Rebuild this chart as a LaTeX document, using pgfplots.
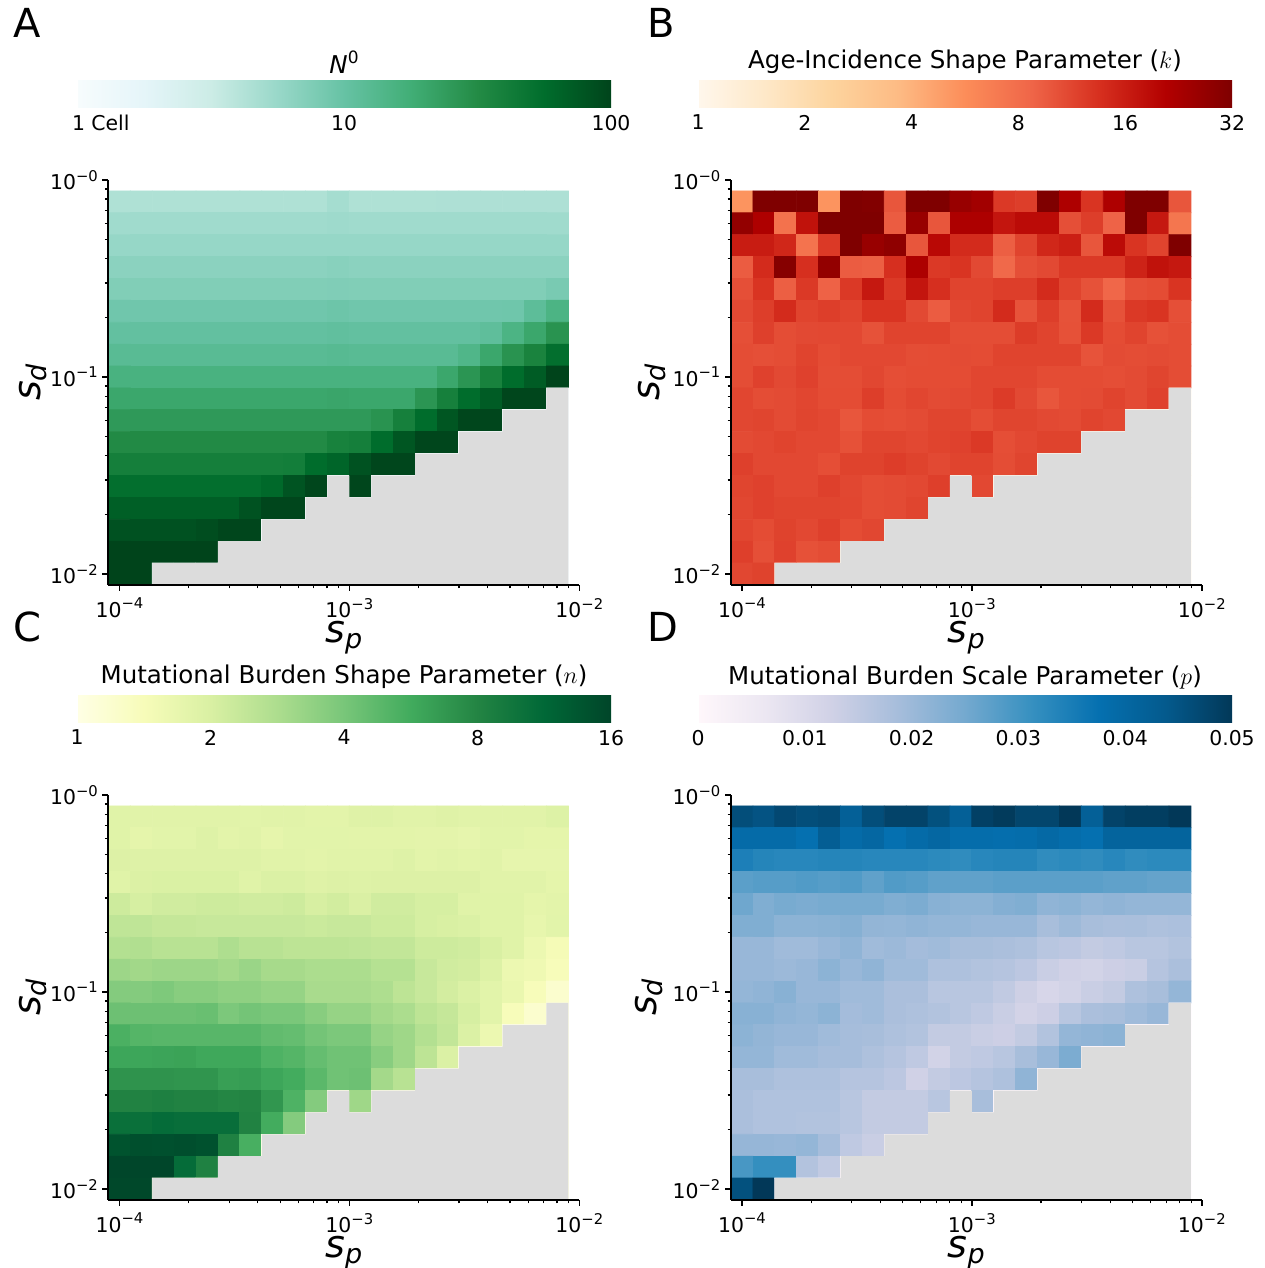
\documentclass[border=0pt]{standalone}
\usepackage{fontspec}
\setmainfont{DejaVu Sans}
\usepackage{pgfplots}
\usepackage{pgfplotstable}
\pgfplotsset{compat=1.18}
\definecolor{maskgrey}{HTML}{DCDCDC}
\newcommand\pw[1]{10\raisebox{0.42em}{\fontsize{7.4}{8}\selectfont −#1}}
\newcommand\slab[1]{\fontsize{19}{23}\selectfont\itshape s\raisebox{-3pt}{\fontsize{13.5}{16}\selectfont #1}}
\pgfplotsset{
  colormap={BuGn}{rgb255=(247,252,253) rgb255=(229,245,249) rgb255=(204,236,230) rgb255=(153,216,201) rgb255=(102,194,164) rgb255=(65,174,118) rgb255=(35,139,69) rgb255=(0,109,44) rgb255=(0,68,27)},
  colormap={OrRd}{rgb255=(255,247,236) rgb255=(254,232,200) rgb255=(253,212,158) rgb255=(253,187,132) rgb255=(252,141,89) rgb255=(239,101,72) rgb255=(215,48,31) rgb255=(179,0,0) rgb255=(127,0,0)},
  colormap={YlGn}{rgb255=(255,255,229) rgb255=(247,252,185) rgb255=(217,240,163) rgb255=(173,221,142) rgb255=(120,198,121) rgb255=(65,171,93) rgb255=(35,132,67) rgb255=(0,104,55) rgb255=(0,69,41)},
  colormap={PuBu}{rgb255=(255,247,251) rgb255=(236,231,242) rgb255=(208,209,230) rgb255=(166,189,219) rgb255=(116,169,207) rgb255=(54,144,192) rgb255=(5,112,176) rgb255=(4,90,141) rgb255=(2,56,88)},
  panel/.style={
    scale only axis, width=235.4pt, height=202.5pt,
    xmin=-4.0476, xmax=-2, ymin=-2.0556, ymax=0,
    axis x line*=bottom, axis y line*=left,
    x axis line style={-, line width=1pt}, y axis line style={-, line width=1pt},
    axis on top,
    tick align=outside, major tick length=3pt, minor tick length=1.75pt,
    major tick style={black,line width=0.8pt}, minor tick style={black,line width=0.6pt},
    xtick={-4,-3,-2}, xticklabels={\pw{4},\pw{3},\pw{2}},
    ytick={-2,-1,0}, yticklabels={\pw{2},\pw{1},\pw{0}},
    minor xtick={-3.699,-3.523,-3.398,-3.301,-3.222,-3.155,-3.097,-3.046,-2.699,-2.523,-2.398,-2.301,-2.222,-2.155,-2.097,-2.046},
    minor ytick={-1.699,-1.523,-1.398,-1.301,-1.222,-1.155,-1.097,-1.046,-0.699,-0.523,-0.398,-0.301,-0.222,-0.155,-0.097,-0.046},
    tick label style={font=\fontsize{10.2}{12}\selectfont},
    yticklabel style={xshift=1.2pt},
    xlabel={\slab{p}}, ylabel={\slab{d}},
    xlabel style={at={(axis description cs:0.5,-0.131)},anchor=center,inner sep=0pt},
    ylabel style={at={(axis description cs:-0.161,0.5)},anchor=center,inner sep=0pt},
    point meta min=0, point meta max=1,
  },
  cbar/.style n args={3}{
    colorbar horizontal,
    colorbar style={
      at={(#1,1.1802)}, anchor=south west, width=267pt, height=13.5pt,
      xtick={#2}, xticklabels={#3},
      major tick length=0pt, xtick style={draw=none}, axis line style={draw=none},
      tick label style={font=\fontsize{10.2}{12}\selectfont},
      xticklabel style={yshift=-0.5pt},
      title style={font=\fontsize{12.25}{14}\selectfont, yshift=-6.5pt},
    },
  },
}
% Values per cell, top row first, 21 columns (sp) by 18 rows (sd). Cells in the grey region hold 1 or 0 and are covered.
\pgfplotstableread[header=false]{
4.4 4.4 4.4 4.4 4.4 4.4 4.4 4.4 4.4 4.4 4.9 4.4 4.4 4.4 4.4 4.45 4.45 4.45 4.45 4.45 4.45
5.2 5.2 5.2 5.2 5.2 5.2 5.2 5.2 5.2 5.2 5.3 5.2 5.2 5.2 5.2 5.2 5.2 5.2 5.2 5.2 5.2
5.8 5.8 5.8 5.8 5.8 5.8 5.8 5.8 5.8 5.8 5.8 5.8 5.8 5.8 5.8 5.8 5.8 5.8 5.8 5.8 5.8
6.6 6.6 6.6 6.6 6.6 6.6 6.6 6.6 6.6 6.6 6.8 6.6 6.6 6.6 6.6 6.6 6.6 6.6 6.6 6.6 6.6
7.4 7.4 7.4 7.4 7.4 7.4 7.4 7.4 7.4 7.4 7.5 7.4 7.4 7.4 7.4 7.4 7.4 7.4 7.4 7.4 8.1
8.9 8.9 8.9 8.9 8.9 8.9 8.9 8.9 8.9 8.9 9.2 8.9 8.9 8.9 8.9 8.9 8.9 8.9 9 11.5 15
10.5 10.5 10.5 10.5 10.5 10.5 10.5 10.5 10.5 10.5 10.8 10.5 10.5 10.5 10.5 10.5 10.5 11.2 15 20 28
12.3 12.3 12.3 12.3 12.3 12.3 12.3 12.3 12.3 12.3 12.6 12.3 12.3 12.3 12.3 12.3 14 20 28 37 54
15.8 15.8 15.8 15.8 15.8 15.8 15.8 15.8 15.8 15.8 15.8 15.8 15.8 15.8 15.8 20 27 38 56 72 100
20 20 20 20 20 20 20 20 20 20 20.5 20 20 20 27 39 56 72 98 98 1
25 25 25 25 25 25 25 25 25 25 25 25 28 39 56 78 98 98 1 1 1
32 32 32 32 32 32 32 32 32 32 38 40 56 78 98 98 1 1 1 1 1
40 40 40 40 40 40 40 40 41 56 63 82 98 98 1 1 1 1 1 1 1
54 54 54 54 54 54 54 60 80 98 1 98 1 1 1 1 1 1 1 1 1
69 69 69 69 69 69 82 98 98 1 1 1 1 1 1 1 1 1 1 1 1
83 83 83 83 88 98 98 1 1 1 1 1 1 1 1 1 1 1 1 1 1
100 100 100 100 100 1 1 1 1 1 1 1 1 1 1 1 1 1 1 1 1
100 100 1 1 1 1 1 1 1 1 1 1 1 1 1 1 1 1 1 1 1
}\tabA
\pgfplotstableread[header=false]{
5.1 32 32 32 5.1 32 30 9.5 32 32 25 23 12 11.5 32 20.7 12.5 20.7 32 32 9.5
26 20.7 7.3 17 32 32 32 9 25 9.5 21 21 16.5 18 18 10 11.5 8.5 32 16 7
15.5 15.5 14 7.2 12 32 25 27 9.5 18.5 13.5 13.5 8.8 11 14 15 9.5 18 12.5 11 32
9 13.5 29 13 26 9 8.8 13 21 12 12.5 10.5 8 10 10.5 12 12 12 14.5 17 16
10 12.5 8.8 12 8.6 12 16 12 16.5 13 11 11 11.5 11.5 13.5 11 9.8 8.2 10 10.3 12.5
10.5 11.5 13.5 11 11.5 11 12.5 12.5 10.5 9 10.7 11 13.5 9.7 11.5 9.8 13.5 9.8 12 12.5 10
10 11.3 10.2 10.5 10.6 10.6 9.8 11 11 11 10.2 10.2 10.2 11.7 11 9.9 12 10.3 11 9.9 10.2
10.2 10 10.2 11 10.3 10.6 10.6 10.6 10.2 10.3 10.4 10.3 11 11 11 11 9.7 10.4 10.2 10.4 10.2
10.2 11.2 10.5 11.2 10.2 10.2 10.7 10.1 10.3 10.3 10.3 10.8 10.8 10.8 10.3 10.3 10.3 10.1 10.4 10.9 10.2
10.8 10.2 10.4 10.8 10.3 10.3 11.5 10.3 10.8 10.4 10.5 10.8 11.8 10.5 9.5 10.3 10.4 11 10.4 11.2 1
10.7 10.9 10.4 10.9 10.6 9.5 10.3 10.1 10.4 10.9 10.9 10.2 10.9 10.9 10.5 10.4 11 10.6 1 1 1
10.4 10.6 11 10.6 10.6 9.9 10.9 10.9 10.6 11 11.2 12 10.1 10.6 11.1 11.1 1 1 1 1 1
11.3 10.6 10.6 10.6 10.1 11.1 11.1 11.6 11.1 10.5 11 11 10.2 10.9 1 1 1 1 1 1 1
10.9 11.2 10.6 10.6 11.3 10.7 10.2 10.4 10.6 11.4 1 10.6 1 1 1 1 1 1 1 1 1
10.7 11.2 10.9 10.9 10.9 10.8 10.2 10.4 10.9 1 1 1 1 1 1 1 1 1 1 1 1
10.8 10.3 11.1 10.6 11.3 10.3 10.7 1 1 1 1 1 1 1 1 1 1 1 1 1 1
11.4 10 11.2 9.9 10.2 1 1 1 1 1 1 1 1 1 1 1 1 1 1 1 1
10.7 11.1 1 1 1 1 1 1 1 1 1 1 1 1 1 1 1 1 1 1 1
}\tabB
\pgfplotstableread[header=false]{
1.85 1.82 1.82 1.82 1.82 1.82 1.8 1.82 1.82 1.78 1.78 1.87 1.88 1.82 1.82 1.87 1.82 1.82 1.82 1.82 1.9
1.85 1.75 1.8 1.8 1.88 1.78 1.83 1.73 1.8 1.8 1.8 1.78 1.78 1.78 1.77 1.77 1.72 1.8 1.8 1.75 1.75
1.92 1.88 1.88 1.88 1.88 1.88 1.88 1.83 1.83 1.78 1.82 1.82 1.82 1.88 1.78 1.82 1.78 1.82 1.72 1.72 1.72
1.85 1.93 1.97 1.97 1.97 1.97 1.85 1.95 1.95 1.87 1.92 1.88 1.92 1.92 1.92 1.92 1.92 1.83 1.83 1.83 1.75
2.2 2.05 2.15 2.15 2.2 2.2 2.15 2.15 2.2 2.03 2.12 1.98 2.15 2.15 2.05 2.05 1.85 1.85 1.85 1.75 1.78
2.45 2.45 2.35 2.35 2.3 2.3 2.3 2.3 2.3 2.25 2.3 2.3 2.2 2.2 2.05 2 1.95 1.85 1.85 1.7 1.8
2.7 2.75 2.6 2.6 2.6 2.8 2.6 2.6 2.5 2.5 2.5 2.45 2.4 2.4 2.2 2.2 2.15 2 1.85 1.6 1.45
3.15 3.05 3.15 3.15 3.15 3 3.2 2.95 2.95 2.85 2.85 2.85 2.65 2.65 2.3 2.15 2.1 1.9 1.6 1.55 1.4
3.7 3.7 3.85 3.6 3.6 3.45 3.45 3.3 3.3 2.9 2.9 2.9 2.8 2.5 2.3 2.1 1.95 1.8 1.65 1.4 1.2
4.3 4.3 4.3 4.3 4.4 3.9 4.1 3.95 3.95 3.6 3.3 3.3 3 2.85 2.5 2.35 2.05 1.8 1.4 1.2 1
5.3 5 4.9 4.9 4.9 4.9 4.9 4.6 4.5 4.1 3.9 3.9 3.3 3.1 2.7 2.4 1.95 1.6 1 1 1
5.9 5.9 6 6.1 5.8 5.8 5.8 5.2 5 4.5 4.2 4.2 3.6 3.1 2.5 1.95 1 1 1 1 1
7 7 7 6.9 6.9 6.3 6.4 5.9 5.6 4.8 4.2 4.3 3 2.6 1 1 1 1 1 1 1
8.2 8.2 8.4 8.2 8.2 7.9 8 6.8 5.2 3.7 1 3.1 1 1 1 1 1 1 1 1 1
10.3 10.3 10.8 10.5 10.5 10.5 8.2 5.6 3.7 1 1 1 1 1 1 1 1 1 1 1 1
14 14.5 14.3 14.6 14.2 8.3 5.4 1 1 1 1 1 1 1 1 1 1 1 1 1 1
15.8 15.8 15.8 10.8 8.3 1 1 1 1 1 1 1 1 1 1 1 1 1 1 1 1
15.5 15.5 1 1 1 1 1 1 1 1 1 1 1 1 1 1 1 1 1 1 1
}\tabC
\pgfplotstableread[header=false]{
0.046 0.045 0.047 0.046 0.0465 0.042 0.046 0.048 0.048 0.0455 0.042 0.0485 0.0495 0.0475 0.0475 0.05 0.042 0.048 0.049 0.049 0.05
0.039 0.039 0.039 0.0375 0.0425 0.039 0.04 0.0375 0.039 0.04 0.0385 0.0385 0.038 0.0385 0.0395 0.0385 0.0375 0.041 0.041 0.041 0.041
0.0345 0.0335 0.033 0.033 0.0335 0.0335 0.033 0.033 0.033 0.0325 0.032 0.033 0.0335 0.0335 0.032 0.0325 0.032 0.033 0.032 0.0325 0.0325
0.0275 0.028 0.028 0.0285 0.028 0.0285 0.027 0.0285 0.028 0.027 0.027 0.027 0.0275 0.0275 0.0275 0.0275 0.0275 0.027 0.027 0.0265 0.0265
0.0255 0.0235 0.0245 0.024 0.0245 0.0245 0.0245 0.0235 0.024 0.0225 0.022 0.022 0.023 0.0235 0.0215 0.022 0.021 0.0215 0.021 0.021 0.021
0.0235 0.0235 0.022 0.022 0.0222 0.0228 0.0212 0.021 0.0215 0.021 0.021 0.0205 0.0205 0.0205 0.0185 0.0198 0.0185 0.018 0.0182 0.0175 0.0178
0.0205 0.0205 0.0195 0.0195 0.0205 0.0215 0.0195 0.02 0.019 0.0195 0.0185 0.0185 0.018 0.0175 0.016 0.0155 0.0145 0.015 0.016 0.016 0.017
0.0205 0.0205 0.02 0.0205 0.022 0.0205 0.0215 0.0195 0.0195 0.0175 0.0175 0.017 0.0165 0.0155 0.0135 0.0125 0.012 0.013 0.0135 0.0165 0.018
0.021 0.0215 0.0225 0.0205 0.0205 0.0195 0.0195 0.018 0.018 0.016 0.016 0.016 0.0148 0.0128 0.011 0.012 0.0135 0.0145 0.0175 0.0185 0.021
0.0225 0.0225 0.0215 0.021 0.022 0.019 0.0195 0.018 0.0175 0.017 0.016 0.015 0.0135 0.0118 0.013 0.016 0.018 0.0185 0.0195 0.0205 0
0.022 0.0212 0.0205 0.0205 0.0195 0.0188 0.0185 0.0175 0.017 0.0145 0.0145 0.0135 0.013 0.0145 0.017 0.021 0.0215 0.022 0 0 0
0.021 0.021 0.0195 0.0195 0.0188 0.0188 0.0175 0.0165 0.015 0.012 0.0145 0.015 0.016 0.0185 0.0205 0.024 0 0 0 0 0
0.0185 0.0185 0.0175 0.0175 0.0175 0.0165 0.0165 0.0155 0.0125 0.0145 0.0155 0.0165 0.0175 0.0215 0 0 0 0 0 0 0
0.018 0.0172 0.0172 0.0172 0.0172 0.016 0.0145 0.0145 0.0145 0.016 0 0.0185 0 0 0 0 0 0 0 0 0
0.018 0.0172 0.0172 0.017 0.017 0.016 0.0145 0.0145 0.0145 0 0 0 0 0 0 0 0 0 0 0 0
0.0208 0.0208 0.0205 0.021 0.0188 0.015 0.0135 0 0 0 0 0 0 0 0 0 0 0 0 0 0
0.0295 0.0315 0.0315 0.0168 0.0148 0 0 0 0 0 0 0 0 0 0 0 0 0 0 0 0
0.0455 0.05 0 0 0 0 0 0 0 0 0 0 0 0 0 0 0 0 0 0 0
}\tabD
\newcommand\buildpts[3]{%
  \gdef#3{}%
  \foreach \rr in {0,...,17}{\foreach \cc in {0,...,20}{%
    \pgfplotstablegetelem{\rr}{[index]\cc}\of{#1}%
    \let\v\pgfplotsretval
    \pgfmathsetmacro\xx{-4+\cc*2/21}%
    \pgfmathsetmacro\yy{-2+(17-\rr)*2/18}%
    \pgfmathsetmacro\mm{min(1,#2)}%
    \xdef#3{#3 (\xx,\yy) [\mm]}%
  }}}
\buildpts{\tabA}{log10(\v)/2}{\ptsA}
\buildpts{\tabB}{log10(\v)/log10(2)/5+0.012}{\ptsB}
\buildpts{\tabC}{log10(\v)/log10(2)/4}{\ptsC}
\buildpts{\tabD}{\v/0.05}{\ptsD}
\newcommand\heat[1]{%
  \edef\cmd{\noexpand\addplot[matrix plot*, mesh/cols=21, point meta=explicit, forget plot] coordinates {#1};}\cmd
  \addplot[draw=none, fill=maskgrey, forget plot] coordinates {
    (-2.0476,-1.0556) (-2.1429,-1.0556) (-2.1429,-1.1667) (-2.3333,-1.1667) (-2.3333,-1.2778)
    (-2.5238,-1.2778) (-2.5238,-1.3889) (-2.7143,-1.3889) (-2.7143,-1.5) (-2.9048,-1.5)
    (-2.9048,-1.6111) (-3,-1.6111) (-3,-1.5) (-3.0952,-1.5) (-3.0952,-1.6111) (-3.1905,-1.6111)
    (-3.1905,-1.7222) (-3.3810,-1.7222) (-3.3810,-1.8333) (-3.5714,-1.8333) (-3.5714,-1.9444)
    (-3.8571,-1.9444) (-3.8571,-2.0556) (-2.0476,-2.0556)} -- cycle;
}
\begin{document}
\begin{tikzpicture}
\path[use as bounding box] (0,0) rectangle (632pt,634pt);
\begin{axis}[panel, at={(54.25pt,341.5pt)}, anchor=south west, colormap name=BuGn,
  cbar={-0.0669}{0,0.5,1}{\makebox[0pt][l]{\hspace{-2.5pt}1 Cell},10,100},
  colorbar style={title={\textit{N}\raisebox{0.42em}{\fontsize{8.5}{9}\selectfont 0}}}]
\heat{\ptsA}
\end{axis}
\begin{axis}[panel, at={(365.5pt,341.5pt)}, anchor=south west, colormap name=OrRd,
  ylabel style={at={(axis description cs:-0.167,0.5)}},
  cbar={-0.0701}{0,0.2,0.4,0.6,0.8,1}{1,2,4,8,16,32},
  colorbar style={title={Age-Incidence Shape Parameter ($k$)}}]
\heat{\ptsB}
\end{axis}
\begin{axis}[panel, at={(54.25pt,34pt)}, anchor=south west, colormap name=YlGn,
  cbar={-0.0669}{0,0.25,0.5,0.75,1}{1,2,4,8,16},
  colorbar style={title={Mutational Burden Shape Parameter ($n$)}}]
\heat{\ptsC}
\end{axis}
\begin{axis}[panel, at={(365.5pt,34pt)}, anchor=south west, colormap name=PuBu,
  ylabel style={at={(axis description cs:-0.175,0.5)}},
  cbar={-0.0701}{0,0.2,0.4,0.6,0.8,1}{0,0.01,0.02,0.03,0.04,0.05},
  colorbar style={title={Mutational Burden Scale Parameter ($p$)}}]
\heat{\ptsD}
\end{axis}
\node[inner sep=0pt,anchor=base west,font=\fontsize{20}{24}\selectfont] at (6.5pt,615pt) {A};
\node[inner sep=0pt,anchor=base west,font=\fontsize{20}{24}\selectfont] at (323.5pt,615pt) {B};
\node[inner sep=0pt,anchor=base west,font=\fontsize{20}{24}\selectfont] at (6.5pt,313pt) {C};
\node[inner sep=0pt,anchor=base west,font=\fontsize{20}{24}\selectfont] at (323.5pt,313pt) {D};
\end{tikzpicture}
\end{document}
